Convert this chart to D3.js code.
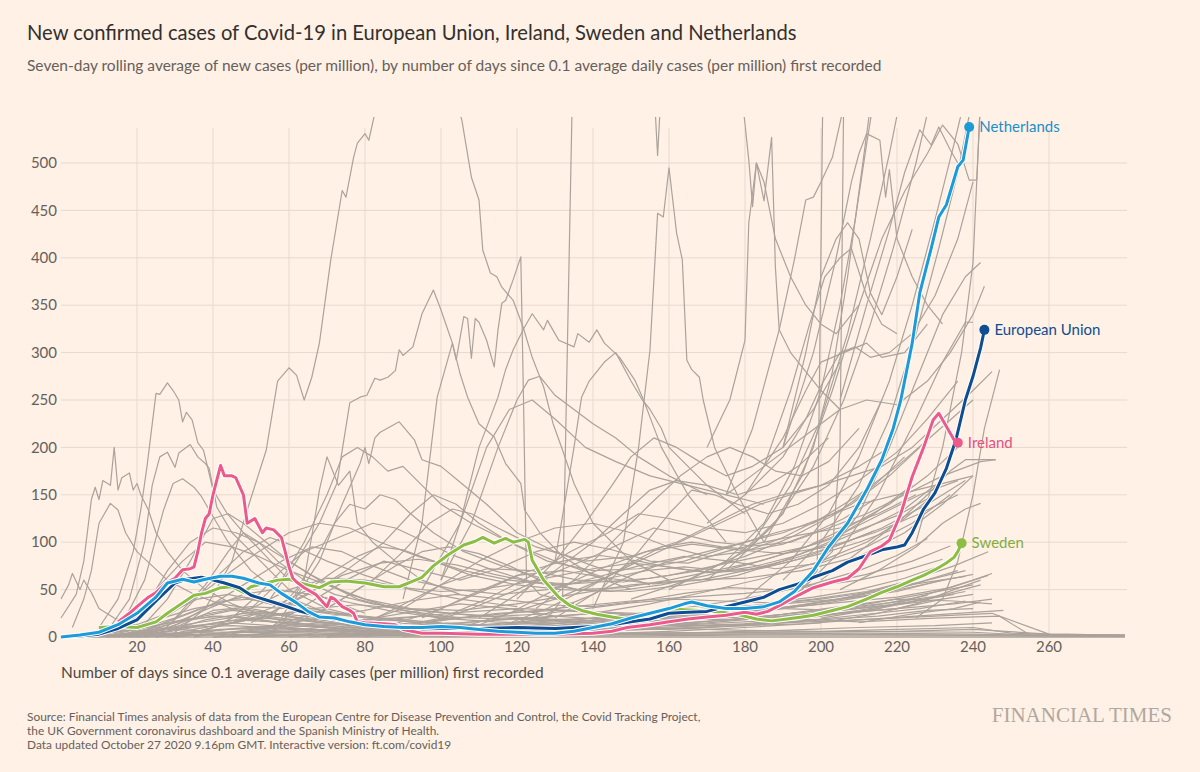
<!DOCTYPE html>
<html>
<head>
<meta charset="utf-8">
<script src="https://cdn.jsdelivr.net/npm/d3@7"></script>
<style>
  html, body { margin: 0; padding: 0; background: #fff1e5; }
  svg { display: block; }
  text { font-family: "Lato", "Roboto", sans-serif; }
</style>
</head>
<body>
<svg id="chart" width="1200" height="772"></svg>
<script>
// ---------------- DATA ----------------
const xTicks = [20, 40, 60, 80, 100, 120, 140, 160, 180, 200, 220, 240, 260];
const yTicks = [0, 50, 100, 150, 200, 250, 300, 350, 400, 450, 500];

const titleText = "New confirmed cases of Covid-19 in European Union, Ireland, Sweden and Netherlands";
const subtitleText = "Seven-day rolling average of new cases (per million), by number of days since 0.1 average daily cases (per million) first recorded";
const xAxisTitle = "Number of days since 0.1 average daily cases (per million) first recorded";
const sourceLines = [
  "Source: Financial Times analysis of data from the European Centre for Disease Prevention and Control, the Covid Tracking Project,",
  "the UK Government coronavirus dashboard and the Spanish Ministry of Health.",
  "Data updated October 27 2020 9.16pm GMT. Interactive version: ft.com/covid19"
];

// highlighted series: [day, cases per million]
const netherlands = [[0,0],[5,2],[10,5],[15,13],[20,25],[25,42],[28,57],[32,61],[35,58],[38,61],[42,64],[45,64],[48,62],[52,57],[55,55],[58,46],[62,36],[65,27],[68,21],[72,20],[76,16],[80,13],[85,11],[90,10],[95,10],[100,11],[105,10],[110,8],[115,6],[120,5],[125,4],[130,4],[135,6],[140,10],[145,14],[150,20],[155,25],[160,30],[164,35],[166,37],[170,33],[175,30],[180,30],[185,32],[189,37],[193,48],[198,70],[202,95],[207,120],[212,155],[216,187],[219,220],[221,250],[224,310],[226,363],[229,410],[231,443],[233,456],[236,496],[237.4,503],[239,538]];
const europeanUnion = [[0,0],[5,1],[10,3],[15,9],[20,18],[25,38],[30,57],[33,61],[37,63],[40,60],[43,57],[47,52],[50,44],[54,39],[58,34],[63,27],[67,23],[72,19],[76,16],[80,14],[85,13],[90,11],[100,9],[110,9],[120,10],[130,9],[140,11],[145,13],[150,16],[155,19],[160,25],[165,26],[170,27],[175,32],[180,37],[185,42],[189,50],[194,56],[198,63],[203,70],[207,79],[212,86],[216,92],[220,95],[222,97],[224,110],[227,135],[230,152],[233,178],[235.5,208],[238,250],[240,275],[242,305],[243,324]];
const ireland = [[15,16],[18,25],[20,32],[23,42],[25,47],[28,58],[30,62],[32,71],[34,72],[35,74],[36,90],[37,110],[38,125],[39,130],[40,150],[42,181],[43,170],[45,170],[46,168],[48,150],[49,120],[51,125],[53,110],[54,115],[56,113],[58,105],[59,90],[60,74],[61,62],[62,58],[64,52],[67,45],[70,32],[71,42],[72,40],[74,32],[76,28],[77,25],[78,16],[80,15],[85,14],[88,13],[90,8],[95,4],[100,4],[110,3],[120,3],[130,3],[140,4],[145,6],[149,10],[155,13],[160,16],[165,19],[170,21],[175,23],[180,26],[183,24],[186,27],[189,33],[194,44],[198,52],[203,58],[207,62],[210,72],[213,90],[216,96],[218,102],[221,130],[224,169],[227,200],[229.5,229],[231,236],[233,222],[235,208],[236,205]];
const sweden = [[10,10],[15,11],[20,10],[25,16],[28,25],[32,36],[35,44],[38,46],[42,52],[45,53],[48,47],[50,53],[54,57],[57,60],[60,61],[62,58],[65,55],[68,52],[71,58],[75,59],[80,57],[85,53],[89,53],[92,58],[95,63],[98,75],[100,81],[102,87],[106,97],[109,101],[111,105],[114,99],[117,104],[119,100],[122,103],[123,100],[124,81],[127,60],[131,42],[134,33],[137,28],[141,24],[145,21],[150,18],[154,19],[158,23],[163,29],[168,28],[174,26],[179,23],[183,19],[187,17],[191,19],[195,21],[198,23],[203,28],[207,32],[212,40],[216,47],[220,53],[224,60],[227,65],[230,71],[233,78],[235,84],[236,90],[237,99]];

const highlightNames = ["Sweden", "European Union", "Ireland", "Netherlands"];
const highlightColors = ["#8cbd45", "#0f4d92", "#ec5a8b", "#1d9ad8"];
const labelColors = ["#85ad3f", "#0f4d92", "#e5507f", "#1b8fc9"];

// other countries (grey), [day, cases per million]
const greyLines = [
  // low band
  [[5,0],[15,3],[25,8],[35,12],[45,15],[55,12],[65,8],[80,5],[100,3],[120,2],[140,3],[160,6],[180,10],[200,15],[215,25],[225,35],[235,50],[242,60]],
  [[10,0],[20,5],[30,15],[40,22],[50,20],[60,14],[75,8],[90,6],[110,5],[130,6],[150,10],[170,14],[190,18],[205,25],[220,30],[232,40],[240,45]],
  [[0,1],[15,6],[25,18],[35,30],[42,35],[50,30],[60,22],[70,15],[85,10],[100,8],[120,7],[140,12],[160,18],[175,22],[190,30],[205,40],[220,55],[235,75],[244,90]],
  [[8,0],[22,4],[32,10],[45,12],[60,9],[80,6],[100,4],[130,3],[160,4],[190,5],[220,6],[240,8],[260,3],[280,2]],
  [[12,0],[28,6],[38,18],[48,25],[58,20],[70,14],[85,9],[100,7],[115,9],[130,14],[145,20],[160,25],[175,22],[190,20],[205,25],[220,30],[235,35],[245,40]],
  [[3,0],[18,10],[28,25],[36,40],[44,45],[52,38],[62,28],[74,18],[90,12],[110,10],[130,12],[150,16],[170,20],[185,28],[200,35],[215,45],[228,60],[238,70]],
  [[20,0],[30,2],[50,5],[70,4],[100,3],[130,2],[170,3],[210,4],[240,3],[270,1],[280,1]],
  [[6,0],[14,2],[24,6],[34,14],[44,20],[54,26],[64,22],[76,16],[90,12],[105,15],[120,20],[135,18],[150,14],[165,12],[180,14],[195,20],[210,28],[225,38],[238,48]],
  [[15,0],[30,10],[40,28],[50,32],[60,30],[70,25],[85,18],[100,14],[120,10],[140,8],[160,8],[180,12],[200,18],[215,22],[228,28],[240,30]],
  [[0,0],[10,2],[20,3],[40,5],[60,6],[80,5],[100,6],[120,8],[140,10],[160,9],[180,7],[200,6],[220,8],[240,10],[250,4],[265,2],[280,1]],
  [[25,0],[35,8],[45,15],[55,22],[65,28],[75,24],[85,20],[100,15],[115,12],[130,16],[145,22],[160,28],[175,32],[190,30],[205,28],[220,35],[235,45]],
  [[10,0],[25,12],[35,20],[45,28],[55,24],[68,18],[80,12],[95,8],[110,6],[125,5],[140,6],[155,8],[170,10],[185,15],[200,22],[215,30],[230,42],[242,55]],
  [[18,0],[28,3],[38,6],[50,10],[65,14],[80,18],[95,22],[110,20],[125,18],[140,15],[155,12],[170,15],[185,20],[200,26],[215,34],[228,44]],
  [[30,0],[45,5],[60,10],[75,15],[90,25],[105,35],[118,30],[130,22],[145,18],[160,22],[175,28],[190,35],[205,40],[220,48],[232,60]],
  [[0,0],[12,4],[22,10],[32,18],[42,22],[52,18],[62,12],[75,8],[90,4],[110,2],[130,2],[150,3],[170,5],[190,7],[210,10],[230,12],[245,15]],
  [[40,0],[55,4],[70,8],[85,12],[100,18],[115,25],[130,28],[145,25],[160,20],[175,18],[190,24],[205,32],[220,40],[235,38],[245,35]],
  [[50,0],[70,3],[90,6],[110,10],[130,14],[150,18],[170,22],[190,20],[210,16],[230,20],[247,22],[255,2],[280,1]],
  [[5,0],[20,8],[30,20],[40,35],[48,42],[56,38],[66,30],[78,22],[92,16],[108,12],[124,10],[140,14],[156,20],[172,26],[188,30],[204,36],[220,42],[234,52],[244,65]],
  [[14,0],[24,10],[34,25],[42,38],[50,40],[58,32],[68,22],[80,14],[95,10],[110,8],[125,10],[140,16],[155,24],[170,30],[185,34],[200,40],[214,48],[226,58],[236,70]],
  [[16,0],[26,5],[36,12],[46,18],[56,16],[70,12],[85,8],[100,6],[115,5],[130,7],[145,10],[160,14],[175,18],[190,22],[205,28],[220,34],[232,40]],
  [[20,0],[32,8],[42,16],[52,20],[62,18],[74,14],[88,12],[102,14],[116,18],[130,22],[144,26],[158,24],[172,20],[186,22],[200,28],[214,36],[228,46],[240,55]],
  [[22,0],[34,4],[46,9],[58,12],[72,10],[86,8],[100,10],[114,14],[128,18],[142,20],[156,16],[170,12],[184,14],[198,18],[212,24],[226,30],[238,38]],
  [[8,0],[18,3],[28,10],[38,24],[46,30],[54,26],[64,18],[76,12],[90,9],[104,8],[118,9],[132,11],[146,14],[160,18],[174,24],[188,30],[202,38],[216,46],[230,58],[240,66]],
  [[30,0],[42,12],[54,22],[66,30],[78,34],[90,30],[102,25],[114,22],[126,24],[138,30],[150,36],[162,40],[174,38],[186,36],[198,42],[210,50],[222,62],[232,76]],
  [[35,0],[50,8],[65,18],[80,28],[92,38],[104,45],[116,40],[128,34],[140,32],[152,38],[164,46],[176,52],[188,50],[200,56],[212,66],[224,80],[234,96]],
  [[45,0],[60,6],[75,14],[90,20],[105,26],[120,30],[135,28],[150,24],[165,22],[180,26],[195,34],[210,44],[225,56],[238,64]],
  [[12,0],[22,2],[32,5],[42,8],[52,9],[62,8],[75,6],[90,5],[105,4],[120,5],[135,6],[150,8],[165,10],[180,12],[195,14],[210,18],[225,22],[240,26],[248,28]],
  [[28,0],[38,3],[50,6],[64,8],[78,7],[92,6],[106,5],[120,6],[134,8],[148,11],[162,14],[176,18],[190,24],[204,30],[218,36],[232,44]],
  [[18,0],[30,15],[40,32],[48,45],[56,50],[64,46],[74,38],[86,28],[100,20],[114,16],[128,14],[142,18],[156,22],[170,28],[184,34],[198,40],[212,48],[224,60]],
  [[60,0],[75,5],[90,12],[105,20],[120,26],[135,32],[150,38],[165,42],[180,46],[195,52],[210,60],[222,70],[232,82]],
  [[65,0],[80,4],[95,8],[110,12],[125,16],[140,20],[155,26],[170,34],[185,44],[198,56],[210,70],[220,86],[228,104]],
  [[70,0],[90,2],[110,4],[130,6],[150,9],[170,12],[190,15],[210,18],[230,22],[245,25],[260,3],[280,2]],
  [[40,0],[60,2],[80,3],[100,2],[130,2],[160,3],[200,3],[230,2],[260,1],[280,1]],
  [[5,0],[15,1],[30,2],[60,3],[90,2],[120,3],[150,4],[180,5],[210,6],[240,5],[255,2],[280,2]],
  [[0,0],[8,1],[20,1],[40,2],[70,2],[100,1],[140,1],[180,2],[220,2],[250,2],[280,1]],
  // medium
  [[10,5],[18,20],[25,50],[32,80],[38,100],[45,95],[52,85],[60,70],[70,55],[80,40],[92,30],[105,28],[120,35],[135,45],[150,55],[165,60],[180,62],[195,70],[210,85],[222,110],[232,140],[240,170]],
  [[20,0],[30,12],[40,35],[50,60],[58,80],[66,95],[74,90],[82,75],[92,60],[104,50],[116,45],[128,50],[140,62],[152,75],[164,85],[176,80],[188,72],[200,78],[212,95],[224,120],[234,150]],
  [[30,0],[40,10],[55,25],[65,45],[75,70],[85,100],[92,130],[98,150],[104,140],[110,120],[118,100],[128,80],[140,70],[152,72],[164,80],[176,95],[188,110],[198,120],[208,140],[218,170],[226,200]],
  [[40,0],[55,10],[70,30],[82,60],[90,90],[97,120],[103,135],[108,130],[115,115],[125,95],[138,80],[150,85],[162,100],[172,120],[182,140],[190,150],[200,160],[210,180],[218,200]],
  [[15,0],[25,15],[35,40],[45,70],[52,90],[60,110],[68,120],[76,115],[84,100],[94,85],[106,70],[118,60],[130,55],[142,58],[155,62],[168,70],[180,85],[192,105],[204,130],[214,160],[222,190]],
  [[60,0],[75,10],[90,30],[100,55],[110,80],[120,100],[130,115],[140,120],[150,110],[160,95],[170,85],[180,90],[190,105],[200,125],[210,150],[220,180],[230,215],[240,250]],
  [[70,0],[85,8],[100,20],[112,40],[124,65],[134,90],[144,110],[152,130],[160,125],[170,115],[180,110],[190,120],[200,140],[210,165],[220,195],[228,230],[236,270]],
  [[25,0],[35,5],[45,15],[55,30],[65,50],[72,70],[78,85],[84,95],[90,92],[98,80],[108,65],[120,55],[132,50],[145,48],[158,55],[170,65],[182,78],[194,92],[206,110],[216,130],[226,150],[236,165]],
  [[80,0],[95,12],[108,30],[120,50],[130,68],[140,85],[148,100],[156,115],[164,108],[172,100],[182,96],[192,100],[202,115],[212,130],[222,150],[232,170],[242,185],[246,187]],
  [[100,0],[115,10],[128,25],[140,45],[150,65],[160,80],[170,90],[180,100],[190,110],[200,125],[210,140],[220,150],[230,160],[240,170]],
  [[20,2],[30,20],[38,55],[44,90],[48,110],[52,100],[57,80],[64,60],[72,45],[82,35],[95,28],[110,22],[125,20],[140,25],[155,35],[170,48],[185,62],[200,80],[212,100],[222,125],[230,150]],
  [[50,0],[62,15],[72,35],[80,55],[88,75],[95,90],[102,95],[110,88],[118,75],[126,60],[136,50],[148,52],[160,60],[172,70],[184,80],[196,95],[208,118],[218,140],[228,170],[236,200]],
  [[35,0],[45,20],[52,45],[58,70],[64,90],[70,100],[76,110],[82,120],[88,115],[96,100],[104,85],[114,70],[124,58],[136,50],[150,48],[164,55],[178,65],[190,80],[202,100],[214,130],[224,160]],
  [[90,0],[105,10],[118,25],[130,40],[142,60],[152,80],[160,95],[168,110],[176,125],[184,140],[192,150],[200,160],[208,170],[216,180],[224,200],[232,230],[240,260],[245,280]],
  [[55,10],[65,35],[75,60],[85,80],[95,70],[105,60],[115,72],[125,90],[135,100],[145,92],[155,80],[165,78],[175,90],[185,100],[195,108],[205,115],[215,130],[225,150]],
  [[75,5],[88,30],[100,55],[112,72],[124,70],[136,60],[148,58],[160,65],[172,75],[184,85],[196,95],[208,110],[220,128],[230,150]],
  [[105,5],[118,25],[130,50],[142,72],[154,90],[166,98],[178,92],[190,88],[202,95],[214,110],[226,130],[236,150]],
  [[40,10],[50,30],[60,50],[70,62],[80,60],[90,52],[100,48],[110,50],[120,56],[130,64],[140,72],[150,78],[160,74],[170,68],[180,70],[190,78],[200,88],[210,100],[220,115]],
  [[85,10],[100,30],[112,50],[122,68],[132,80],[142,86],[152,80],[162,72],[172,68],[182,74],[192,84],[202,98],[212,115],[222,135],[230,160]],
  [[115,10],[128,30],[140,55],[150,78],[158,95],[166,100],[174,95],[182,92],[190,98],[198,110],[206,125],[214,145]],
  [[50,15],[62,40],[74,65],[84,78],[94,82],[104,76],[114,66],[124,58],[134,56],[144,62],[154,70],[164,74],[174,70],[184,72],[194,82],[204,96],[214,112]],
  [[95,20],[108,45],[120,65],[132,70],[144,62],[156,56],[168,60],[180,70],[192,82],[204,96],[216,115],[228,140],[238,165]],
  // early peaks (left)
  [[0,40],[2,55],[3,67],[5,50],[6,60],[8,47],[10,30],[14,20],[20,12],[30,8],[40,6]],
  [[0,20],[4,45],[6,80],[8,145],[9,158],[10,145],[11,165],[13,160],[14,200],[15,155],[16,168],[18,173],[19,155],[20,162],[21,150],[23,134],[25,110],[28,90],[32,70],[38,50],[45,35],[55,20],[70,10]],
  [[3,10],[6,40],[8,70],[10,120],[13,141],[15,134],[17,110],[20,90],[24,75],[28,60],[35,45],[45,30],[60,15]],
  [[10,10],[15,40],[19,90],[21,134],[22.6,179],[25,257],[26,256],[28,268],[29.5,260],[31,250],[32,227],[33,237],[34.5,229],[36,205],[37.5,197],[38.6,179],[40,155],[43.6,131],[48,110],[54,85],[60,60],[70,40],[80,25]],
  [[12,5],[18,40],[22,100],[24,160],[26,190],[28,195],[30,179],[31,194],[34,203],[36,190],[38,183],[39,178],[41,137],[45,110],[50,90],[55,70],[60,50],[70,30],[80,20]],
  [[15,5],[22,60],[27,134],[29.5,162],[32,167],[35,158],[37,148],[39,134],[44,100],[50,70],[58,45],[70,25]],
  [[15,5],[22,30],[28,70],[34,100],[40,115],[46,110],[52,100],[58,85],[66,65],[76,45],[88,30],[100,20]],
  [[20,5],[28,40],[34,80],[40,125],[44,130],[48,120],[54,100],[60,80],[68,60],[78,40],[90,28],[105,20]],
  [[25,0],[33,30],[40,60],[48,90],[55,105],[62,95],[70,80],[80,65],[92,50],[105,40],[120,32]],
  // middle period peaks
  [[30,5],[38,30],[45,80],[49,134],[54,197],[57,270],[60,284],[62,276],[64,250],[66,274],[68,310],[71,398],[74,471],[75,464],[77,506],[78,521],[80,531],[81,524],[83,560],[90,650],[100,620],[105.5,545],[108,485],[110,461],[111,408],[113,384],[114.7,380],[116,369],[119,355],[121.6,327],[124,295],[127,264],[129.5,225],[132,197],[135,162],[140,120],[150,80],[160,60]],
  [[55,40],[62,80],[68,120],[72.6,162],[76,247],[78.7,253],[80.5,255],[82.6,273],[84,271],[86,274],[88,281],[89,303],[90,297],[92.6,306],[95,341],[98,366],[100,345],[103,310],[105,278],[107,253],[110,225],[114,211],[117,183],[121,162],[122,134],[126,110],[132,85],[140,65],[150,50]],
  [[60,30],[68,80],[74,140],[78.7,183],[80,200],[81,183],[82.6,210],[84,216],[89,227],[93,208],[95,187],[100,180],[106,160],[112,140],[120,110],[130,90],[140,75],[155,55]],
  [[58,20],[64,60],[67,130],[68,155],[70,190],[72,170],[73,160],[76,175],[78,120],[82,100],[88,80],[95,60],[105,45]],
  [[50,30],[58,60],[64,100],[70,150],[74,190],[78,200],[82,190],[86,175],[90,180],[95,160],[100,140],[108,120],[118,100],[130,80],[145,60]],
  [[55,20],[62,50],[68,90],[72,120],[76,140],[80,135],[84,150],[88,145],[92,130],[98,110],[106,90],[116,75],[128,60]],
  [[90,40],[95,120],[99,253],[103,310],[104,292],[106,338],[107,336],[108,294],[109,336],[110,332],[112,313],[114,285],[115,324],[116,352],[117,355],[119,377],[121,401],[121.7,253],[122.5,60],[126,45],[135,35]],
  [[100,60],[105,120],[110,200],[115,253],[117,282],[119,303],[122,327],[124,341],[127,324],[128,334],[130,320],[131,313],[135,306],[136,320],[139,311],[141,324],[143,310],[147,295],[151,271],[153,253],[158,200],[165,150],[175,100]],
  [[100,60],[108,120],[115,200],[120,250],[123,271],[126,275],[130,255],[135,240],[140,225],[146,210],[152,190],[160,170],[170,150]],
  [[95,50],[105,120],[112,200],[118,240],[124,250],[130,230],[138,200],[146,185],[155,170],[165,160],[175,150],[185,140]],
  [[130,80],[135,200],[137,253],[139,270],[143,290],[146,300],[150,270],[153,250],[155,240],[158,220],[160,200],[170,160],[180,130]],
  [[140,30],[148,100],[152,200],[155,303],[157,447],[158.5,443],[160,495],[162,426],[163.5,398],[164.7,292],[166,282],[168,274],[169,250],[172,200],[178,150],[185,100]],
  [[155.5,620],[157,508],[158.5,620]],
  [[120,15],[128,20],[132,40],[133,253],[134.5,560],[140,700],[160,800],[175,700],[179.5,560],[181,503],[182,454],[183,500],[185,480],[188,420],[192,380],[196,350],[200,330],[204,320],[210,350]],
  [[120,40],[130,80],[138,120],[145,160],[150,190],[156,210],[162,200],[168,185],[175,170],[182,180],[190,200],[198,240],[205,290]],
  [[125,30],[135,60],[145,100],[155,140],[163,170],[170,190],[176,200],[182,190],[188,175],[195,170],[202,185],[210,220]],
  [[130,20],[142,50],[152,90],[160,130],[166,155],[172,150],[178,140],[186,130],[194,140],[202,160],[210,200],[216,250]],
  [[110,20],[120,45],[130,70],[140,100],[148,130],[155,155],[162,165],[170,160],[178,150],[186,160],[194,180],[202,210]],
  // late surge
  [[170,200],[176,250],[180,313],[181,437],[183,500],[185,460],[187,527],[188,390],[189,324],[192,300],[196,280],[200,260],[205,240]],
  [[175,150],[182,220],[186,280],[189,324],[193,398],[196,461],[198,464],[200,480],[203,506],[206,560]],
  [[190,200],[196,300],[200,380],[204,420],[207,437],[210,420],[213,363],[216,340],[220,380],[224,430]],
  [[185,180],[192,260],[197,330],[201,380],[205,400],[208,410],[212,360],[216,330],[220,320]],
  [[180,150],[190,210],[196,260],[200,290],[206,300],[212,310],[216,295],[222,300],[228,330]],
  [[170,120],[180,150],[190,190],[196,230],[200,265],[205,300],[209,306],[213,295],[218,300],[224,320],[230,360],[236,420],[240,480]],
  [[175,150],[185,180],[195,210],[205,240],[212,250],[220,245],[228,270],[234,300],[240,340],[243,370]],
  [[200,60],[210,90],[220,120],[228,150],[234,175],[238,187],[246,187]],
  [[205,50],[215,70],[225,95],[232,120],[238,135],[242,141]],
  [[200,20],[215,30],[228,45],[236,55],[240,60],[245,67]],
  [[210,15],[225,25],[235,30],[240,35],[242,37]],
  [[225,20],[232,40],[236,80],[240,150],[243,220],[247,282]],
  [[150,40],[165,60],[180,90],[190,130],[198,200],[203,280],[207,380],[210,470],[213,560]],
  [[160,50],[175,80],[185,120],[193,180],[200,260],[205,350],[209,440],[212,520],[214,570]],
  [[170,60],[182,100],[192,160],[200,230],[207,320],[213,420],[218,510],[221,570]],
  [[175,70],[188,120],[198,180],[206,250],[213,330],[219,410],[225,500],[229,570]],
  [[180,40],[192,80],[202,130],[210,190],[218,270],[224,350],[230,440],[235,520],[238,570]],
  [[190,60],[200,100],[210,160],[218,230],[225,320],[231,410],[236,490],[240,570]],
  [[185,100],[195,170],[203,260],[210,350],[216,420],[222,470],[228,510],[232,540],[236,520],[239,482],[241,482],[242,570]],
  [[200,80],[210,130],[218,200],[226,280],[232,340],[238,380],[242,395]],
  [[195,50],[205,90],[215,150],[225,230],[232,290],[238,332],[240,332]],
  [[190,200],[198,300],[204,400],[208,480],[210,510],[212,531],[215.5,524],[217,464],[218,493],[220,420],[224,380],[228,350],[232,330]],
  [[205,250],[212,350],[218,430],[222,490],[226,535],[229,519],[231,538],[234,514],[236,500]],
  [[185,30],[195,50],[199,70],[200.5,580]],
  [[195,60],[203,90],[205,200],[206,580]],
  [[225,100],[232,200],[237,300],[240,395],[242,570]]
];

// ---------------- LAYOUT ----------------
const svg = d3.select("#chart");
const W = 1200, H = 772;
svg.append("rect").attr("width", W).attr("height", H).attr("fill", "#fff1e5");

const x = d3.scaleLinear().domain([0, 280]).range([61, 1125]);
const y = d3.scaleLinear().domain([0, 500]).range([637, 163]);

// title & subtitle
svg.append("text").attr("x", 27).attr("y", 40)
  .attr("font-size", 20.2).attr("fill", "#33302e").text(titleText);
svg.append("text").attr("x", 27).attr("y", 71)
  .attr("font-size", 15.5).attr("fill", "#66605c").text(subtitleText);

// grid
const grid = svg.append("g");
grid.selectAll("line.h").data(yTicks.filter(d => d > 0)).join("line")
  .attr("x1", x(0)).attr("x2", 1127)
  .attr("y1", d => y(d)).attr("y2", d => y(d))
  .attr("stroke", "#e6d9ce").attr("stroke-width", 1);
grid.selectAll("line.v").data(xTicks).join("line")
  .attr("x1", d => x(d)).attr("x2", d => x(d))
  .attr("y1", 128).attr("y2", y(0))
  .attr("stroke", "#e6d9ce").attr("stroke-width", 1);

// y tick labels
svg.append("g").selectAll("text").data(yTicks).join("text")
  .attr("x", 57).attr("y", d => y(d)).attr("dy", "0.35em")
  .attr("text-anchor", "end").attr("font-size", 15).attr("fill", "#66605c")
  .text(d => d);

// x tick labels
svg.append("g").selectAll("text").data(xTicks).join("text")
  .attr("x", d => x(d)).attr("y", 647).attr("dy", "0.35em")
  .attr("text-anchor", "middle").attr("font-size", 15).attr("fill", "#66605c")
  .text(d => d);

svg.append("text").attr("x", 61).attr("y", 678)
  .attr("font-size", 15.5).attr("fill", "#4d4845").text(xAxisTitle);

// clip
svg.append("clipPath").attr("id", "plotclip").append("rect")
  .attr("x", 55).attr("y", 117).attr("width", 1075).attr("height", 523);

const line = d3.line().x(d => x(d[0])).y(d => y(d[1]));
const plot = svg.append("g").attr("clip-path", "url(#plotclip)");

// baseline
plot.append("line").attr("x1", x(0)).attr("x2", x(280)).attr("y1", y(0)).attr("y2", y(0))
  .attr("stroke", "#aaa29b").attr("stroke-width", 1.5);

plot.append("g").selectAll("path").data(greyLines).join("path")
  .attr("d", line).attr("fill", "none")
  .attr("stroke", "#aba29b").attr("stroke-width", 1.2)
  .attr("stroke-linejoin", "round");

const highlights = [sweden, europeanUnion, ireland, netherlands];
const hg = plot.append("g");
highlights.forEach((s, i) => {
  hg.append("path").attr("d", line(s)).attr("fill", "none")
    .attr("stroke", "#ffffff").attr("stroke-width", 5).attr("stroke-linejoin", "round");
  hg.append("path").attr("d", line(s)).attr("fill", "none")
    .attr("stroke", highlightColors[i]).attr("stroke-width", 3).attr("stroke-linejoin", "round");
});

// end dots & labels
const labels = svg.append("g");
highlights.forEach((s, i) => {
  const last = s[s.length - 1];
  labels.append("circle").attr("cx", x(last[0])).attr("cy", y(last[1])).attr("r", 5)
    .attr("fill", highlightColors[i]);
  labels.append("text").attr("x", x(last[0]) + 10).attr("y", y(last[1])).attr("dy", "0.35em")
    .attr("font-size", 15).attr("fill", labelColors[i]).text(highlightNames[i]);
});

// footer
svg.append("g").selectAll("text").data(sourceLines).join("text")
  .attr("x", 27).attr("y", (d, i) => 721 + i * 14)
  .attr("font-size", 11.9).attr("fill", "#66605c").text(d => d);

svg.append("text").attr("x", 1172).attr("y", 722).attr("text-anchor", "end")
  .style("font-family", "'Liberation Serif', 'DejaVu Serif', serif")
  .attr("font-size", 21).attr("fill", "#b0a8a0").text("FINANCIAL TIMES");
</script>
</body>
</html>
